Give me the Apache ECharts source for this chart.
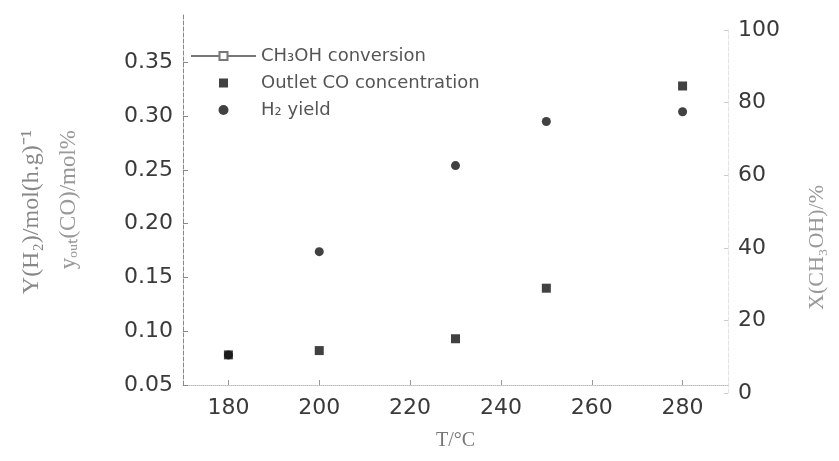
<!DOCTYPE html>
<html><head><meta charset="utf-8">
<script src="https://cdn.jsdelivr.net/npm/echarts@6/dist/echarts.min.js"></script>
<style>html,body{margin:0;padding:0;background:#fff}#c{width:839px;height:461px}</style>
</head><body><div id="c"></div>
<script>
const temps = [180, 200, 230, 250, 280];
const coConc = [0.078, 0.082, 0.093, 0.140, 0.328];
const h2Yield = [0.078, 0.174, 0.254, 0.295, 0.304];
const meohConv = [];
const xTicks = [180, 200, 220, 240, 260, 280];
const leftTicks = [0.05, 0.10, 0.15, 0.20, 0.25, 0.30, 0.35];
const rightTicks = [0, 20, 40, 60, 80, 100];

const pair = (xs, ys) => xs.map((x, i) => [x, ys[i]]);
const txt = '#3a3a3a';
const font = 'DejaVu Sans';
const squareIcon = 'path://M0,5L0.01,5M28,0.5H37V9.5H28ZM65,5L64.99,5';
const chart = echarts.init(document.getElementById('c'), null, {renderer: 'canvas'});
chart.setOption({
  animation: false,
  backgroundColor: '#fff',
  grid: [
    {left: 183, right: 111, top: 15, bottom: 76},
    {left: 183, right: 111, top: 30, bottom: 68}
  ],
  xAxis: [
    {gridIndex: 0, type: 'value', min: 170, max: 290,
     name: 'T/°C', nameLocation: 'middle', nameGap: 46,
     nameTextStyle: {fontFamily: 'Liberation Serif', fontSize: 20, color: '#777'},
     axisLine: {show: true, lineStyle: {color: '#bbb', type: 'dotted', width: 1}},
     axisTick: {show: true, inside: true, length: 5, customValues: xTicks, lineStyle: {color: '#999'}},
     axisLabel: {customValues: xTicks, fontFamily: font, fontSize: 22, color: txt, margin: 12},
     splitLine: {show: false}},
    {gridIndex: 1, type: 'value', min: 170, max: 290, show: false}
  ],
  yAxis: [
    {gridIndex: 0, type: 'value', min: 0.05, max: 0.394, interval: 0.05, position: 'left',
     axisLine: {show: true, lineStyle: {color: '#888', type: 'dashed', width: 1}},
     axisTick: {show: true, inside: true, length: 5, customValues: leftTicks, lineStyle: {color: '#888'}},
     axisLabel: {customValues: leftTicks, fontFamily: font, fontSize: 22, color: txt, margin: 10,
       formatter: v => v.toFixed(2)},
     splitLine: {show: false}},
    {gridIndex: 1, type: 'value', min: 0, max: 100, interval: 20, position: 'right',
     axisLine: {show: true, lineStyle: {color: '#e2e2e2', type: 'dashed', width: 1}},
     axisTick: {show: true, inside: true, length: 4, customValues: rightTicks, lineStyle: {color: '#ccc'}},
     axisLabel: {customValues: rightTicks, fontFamily: font, fontSize: 22, color: txt, margin: 10},
     splitLine: {show: false}}
  ],
  legend: {
    orient: 'vertical', left: 185, top: 42, itemWidth: 65, itemHeight: 10, itemGap: 9,
    textStyle: {fontFamily: font, fontSize: 18, color: '#555'},
    data: [
      {name: 'CH₃OH conversion'},
      {name: 'Outlet CO concentration', icon: squareIcon},
      {name: 'H₂ yield'}
    ]
  },
  series: [
    {name: 'CH₃OH conversion', type: 'line', xAxisIndex: 1, yAxisIndex: 1,
     data: pair(temps, meohConv), symbol: 'emptyRect', symbolSize: 7,
     itemStyle: {color: '#777', borderColor: '#777'}, lineStyle: {color: '#777', width: 1}},
    {name: 'H₂ yield', type: 'scatter', xAxisIndex: 0, yAxisIndex: 0,
     data: pair(temps, h2Yield), symbol: 'circle', symbolSize: 9,
     itemStyle: {color: '#111'}},
    {name: 'Outlet CO concentration', type: 'scatter', xAxisIndex: 0, yAxisIndex: 0,
     data: pair(temps, coConc), symbol: 'rect', symbolSize: 9,
     itemStyle: {color: '#111'}}
  ],
  graphic: [
    {type: 'text', left: 20, top: 130, rotation: Math.PI / 2,
     style: {text: 'Y(H₂)/mol(h.g)⁻¹', font: '24px "Liberation Serif"', fill: '#888'}},
    {type: 'text', left: 57, top: 130, rotation: Math.PI / 2,
     style: {text: 'y\u2092\u1D64\u209C(CO)/mol%', font: '23px "Liberation Serif"', fill: '#999'}},
    {type: 'text', left: 806, top: 185, rotation: Math.PI / 2,
     style: {text: 'X(CH₃OH)/%', font: '22px "Liberation Serif"', fill: '#999'}}
  ]
});
</script></body></html>
